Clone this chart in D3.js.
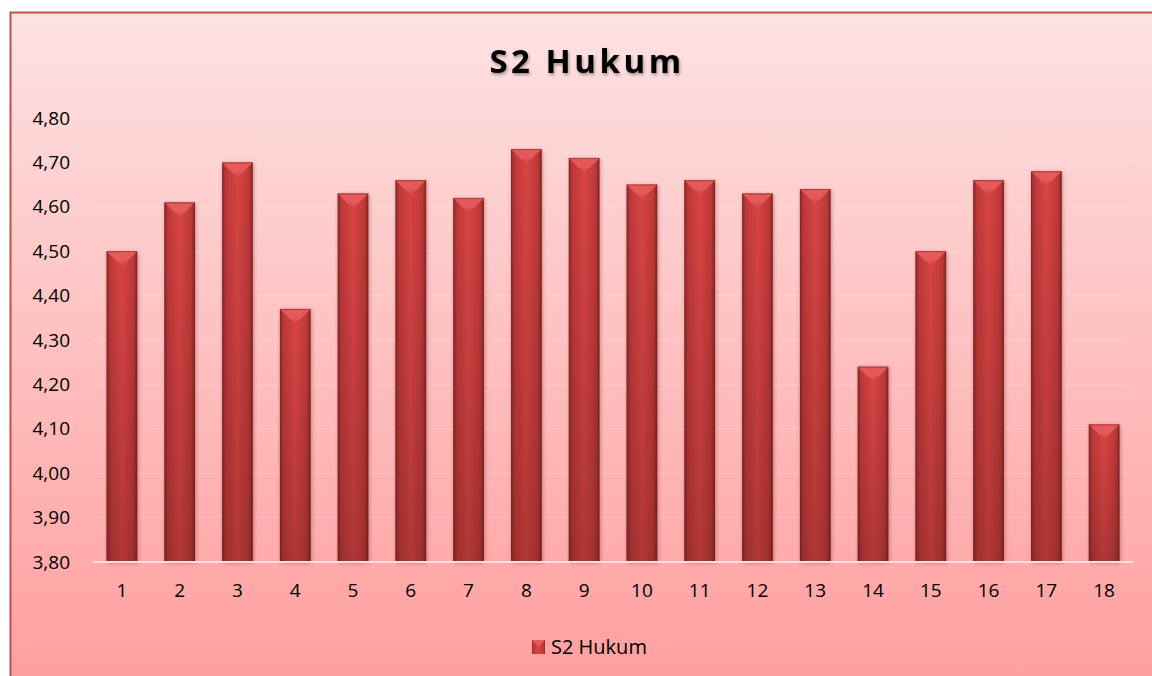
<!DOCTYPE html>
<html>
<head>
<meta charset="utf-8">
<script src="https://cdn.jsdelivr.net/npm/d3@7"></script>
<style>
  body { margin: 0; background: #fff; }
  text { font-family: "Open Sans", "Noto Sans", sans-serif; }
</style>
</head>
<body>
<div class="chart"></div>
<script>
// data
const categories = ['1','2','3','4','5','6','7','8','9','10','11','12','13','14','15','16','17','18'];
const values = [4.50,4.61,4.70,4.37,4.63,4.66,4.62,4.73,4.71,4.65,4.66,4.63,4.64,4.24,4.50,4.66,4.68,4.11];
const yTicks = [3.80,3.90,4.00,4.10,4.20,4.30,4.40,4.50,4.60,4.70,4.80];
const seriesName = 'S2 Hukum';

const W = 1152, H = 676;
const svg = d3.select('.chart').append('svg').attr('width', W).attr('height', H);
const defs = svg.append('defs');

// background gradient
const bg = defs.append('linearGradient').attr('id','bg').attr('x1',0).attr('y1',0).attr('x2',0).attr('y2',1);
bg.append('stop').attr('offset','0%').attr('stop-color','#fde2e2');
bg.append('stop').attr('offset','100%').attr('stop-color','#ff9e9e');

// bar gradient (horizontal)
const bg2 = defs.append('linearGradient').attr('id','barg').attr('x1',0).attr('y1',0).attr('x2',1).attr('y2',0);
bg2.append('stop').attr('offset','0%').attr('stop-color','#8f2a2a');
bg2.append('stop').attr('offset','12%').attr('stop-color','#bf3838');
bg2.append('stop').attr('offset','50%').attr('stop-color','#d94444');
bg2.append('stop').attr('offset','88%').attr('stop-color','#bf3838');
bg2.append('stop').attr('offset','100%').attr('stop-color','#862626');

// vertical darkening toward the bottom
const vg = defs.append('linearGradient').attr('id','barv').attr('x1',0).attr('y1',0).attr('x2',0).attr('y2',1);
vg.append('stop').attr('offset','0%').attr('stop-color','#000').attr('stop-opacity',0);
vg.append('stop').attr('offset','100%').attr('stop-color','#000').attr('stop-opacity',0.18);

const shadow = defs.append('filter').attr('id','shadow').attr('x','-30%').attr('y','-10%').attr('width','160%').attr('height','130%');
shadow.append('feDropShadow').attr('dx',1).attr('dy',1).attr('stdDeviation',2).attr('flood-color','#600').attr('flood-opacity',0.35);

const tshadow = defs.append('filter').attr('id','tshadow').attr('x','-10%').attr('y','-30%').attr('width','120%').attr('height','160%');
tshadow.append('feDropShadow').attr('dx',1).attr('dy',2).attr('stdDeviation',1.5).attr('flood-color','#000').attr('flood-opacity',0.35);

// frame
svg.append('rect').attr('x',10.5).attr('y',12.5).attr('width',W).attr('height',H)
  .attr('fill','url(#bg)').attr('stroke','#c0504d').attr('stroke-width',2);

const margin = {top:118, left:93, right:19, bottom:114};
const chartW = W - margin.left - margin.right;
const chartH = H - margin.top - margin.bottom;
const g = svg.append('g').attr('transform',`translate(${margin.left},${margin.top})`);

const x = d3.scaleBand().domain(categories).range([0, chartW]).paddingInner(0.47).paddingOuter(0.235);
const y = d3.scaleLinear().domain([3.8, 4.8]).range([chartH, 0]);

// gridlines
g.selectAll('.grid').data(yTicks.slice(1)).enter().append('line')
  .attr('x1',0).attr('x2',chartW).attr('y1',d=>y(d)).attr('y2',d=>y(d))
  .attr('stroke','#fff').attr('stroke-opacity',0.2).attr('stroke-width',1);

// y axis
const fmt = d => d3.format('.2f')(d).replace('.', ',');
const yAxis = d3.axisLeft(y).tickValues(yTicks).tickFormat(fmt).tickSize(0).tickPadding(23);
const yAxisG = g.append('g').call(yAxis);
yAxisG.select('.domain').remove();
yAxisG.selectAll('text').attr('font-size',19).attr('fill','#000');

// bars
const bw = x.bandwidth();
const bars = g.selectAll('.bar').data(values).enter().append('g').attr('class','bar')
  .attr('transform',(d,i)=>`translate(${x(categories[i])},0)`);
bars.append('rect').attr('x',0).attr('y',d=>y(d)).attr('width',bw).attr('height',d=>chartH - y(d))
  .attr('fill','url(#barg)').attr('filter','url(#shadow)');
bars.append('rect').attr('x',0).attr('y',d=>y(d)).attr('width',bw).attr('height',d=>chartH - y(d))
  .attr('fill','url(#barv)');
// top bevel
bars.append('path').attr('d',d=>{
  const t = y(d), b = 10;
  return `M0,${t} L${bw},${t} L${bw-b},${t+b} L${b},${t+b} Z`;
}).attr('fill','#e45a5a');
bars.append('path').attr('d',d=>{
  const t = y(d), b = 10;
  return `M${b},${t+b} L${bw/2},${t+b+4} L${bw-b},${t+b} Z`;
}).attr('fill','#e45a5a').attr('opacity',0.6);
bars.append('rect').attr('x',0.5).attr('y',d=>y(d)+0.5).attr('width',bw-1).attr('height',d=>chartH - y(d)-1)
  .attr('fill','none').attr('stroke','#7a1f1f').attr('stroke-opacity',0.5);

// x axis
const xAxis = d3.axisBottom(x).tickSize(0).tickPadding(22);
const xAxisG = g.append('g').attr('transform',`translate(0,${chartH})`).call(xAxis);
xAxisG.select('.domain').remove();
xAxisG.selectAll('text').attr('font-size',19).attr('fill','#000');
g.append('line').attr('x1',0).attr('x2',chartW).attr('y1',chartH).attr('y2',chartH)
  .attr('stroke','#fbe0e0').attr('stroke-width',2);

// title
svg.append('text').attr('x',587).attr('y',73).attr('text-anchor','middle')
  .attr('font-size',33).attr('font-weight','bold').attr('letter-spacing',3.5)
  .attr('filter','url(#tshadow)').text(seriesName);

// legend
const lg = svg.append('g').attr('transform','translate(532,647)');
lg.append('rect').attr('x',0).attr('y',-7).attr('width',13).attr('height',14).attr('fill','url(#barg)');
lg.append('path').attr('d','M0,-7 L13,-7 L6.5,0 Z').attr('fill','#e45a5a');
lg.append('text').attr('x',19).attr('y',7).attr('font-size',20).text(seriesName);
</script>
</body>
</html>
